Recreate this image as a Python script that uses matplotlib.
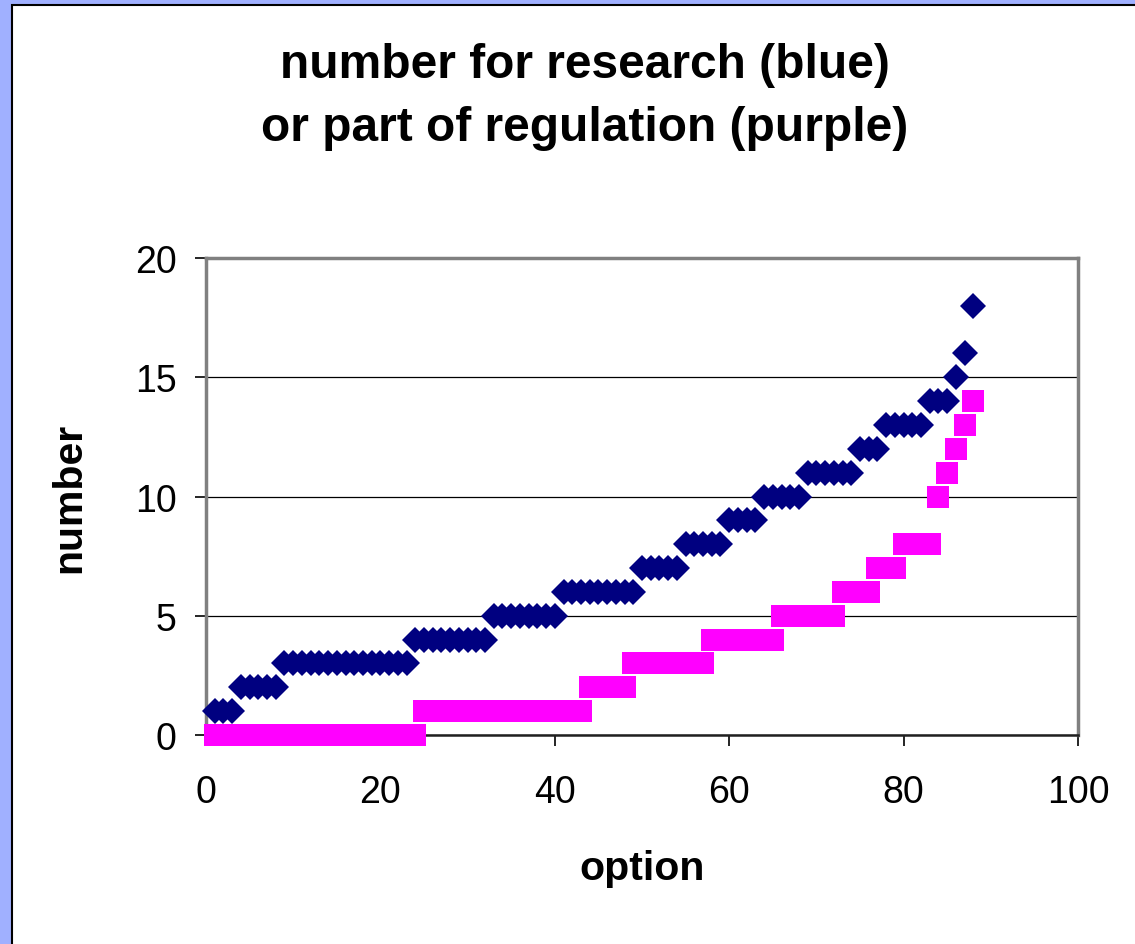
import matplotlib
matplotlib.use("Agg")
import matplotlib.pyplot as plt
from matplotlib.patches import Rectangle

# ── Dados ────────────────────────────────────────────────────────────────────
options = list(range(1, 89))

research = [1, 1, 1,
            2, 2, 2, 2, 2,
            3, 3, 3, 3, 3, 3, 3, 3, 3, 3, 3, 3, 3, 3, 3,
            4, 4, 4, 4, 4, 4, 4, 4, 4,
            5, 5, 5, 5, 5, 5, 5, 5,
            6, 6, 6, 6, 6, 6, 6, 6, 6,
            7, 7, 7, 7, 7,
            8, 8, 8, 8, 8,
            9, 9, 9, 9,
            10, 10, 10, 10, 10,
            11, 11, 11, 11, 11, 11,
            12, 12, 12,
            13, 13, 13, 13, 13,
            14, 14, 14,
            15, 16, 18]

regulation = [0, 0, 0, 0, 0, 0, 0, 0, 0, 0, 0, 0,
              0, 0, 0, 0, 0, 0, 0, 0, 0, 0, 0, 0,
              1, 1, 1, 1, 1, 1, 1, 1, 1, 1, 1, 1, 1, 1, 1, 1, 1, 1, 1,
              2, 2, 2, 2, 2,
              3, 3, 3, 3, 3, 3, 3, 3, 3,
              4, 4, 4, 4, 4, 4, 4, 4,
              5, 5, 5, 5, 5, 5, 5,
              6, 6, 6, 6,
              7, 7, 7,
              8, 8, 8, 8,
              10, 11, 12, 13, 14]

x_ticks = [0, 20, 40, 60, 80, 100]
y_ticks = [0, 5, 10, 15, 20]

TITULO = "number for research (blue)\nor part of regulation (purple)"

# ── Estilo ───────────────────────────────────────────────────────────────────
plt.rcParams.update({
    "font.family": ["Liberation Sans", "DejaVu Sans"],
    "text.color": "black",
})

W, H = 1135, 945
fig = plt.figure(figsize=(W / 100, H / 100), dpi=100, facecolor="#a0b0ff")

# moldura branca com borda preta (atrás de tudo)
fig.patches.append(Rectangle((11.5 / W, -0.05), 1.1, (H - 5.5) / H + 0.05,
                             transform=fig.transFigure, facecolor="white",
                             edgecolor="black", linewidth=1.5, zorder=-10))

ax = fig.add_axes([206 / W, 1 - 736 / H, (1078 - 206) / W, (736 - 259) / H])
ax.set_zorder(2)
ax.set_facecolor("white")

ax.plot(options, research, linestyle="none", marker="D", markersize=12.9,
        color="#000080", markeredgewidth=0, clip_on=False, zorder=3)
ax.plot(options, regulation, linestyle="none", marker="s", markersize=15.5,
        color="#ff00ff", markeredgewidth=0, clip_on=False, zorder=4)

ax.set_xlim(0, 100)
ax.set_ylim(0, 20)
ax.set_xticks(x_ticks)
ax.set_yticks(y_ticks)

ax.grid(axis="y", color="black", linewidth=0.9)
ax.set_axisbelow(True)

for lado in ["top", "right", "left"]:
    ax.spines[lado].set_color("#808080")
    ax.spines[lado].set_linewidth(2.5)
ax.spines["bottom"].set_color("#202020")
ax.spines["bottom"].set_linewidth(1.8)

ax.tick_params(axis="both", direction="out", length=8, width=1.2,
               color="black", labelsize=27)
ax.tick_params(axis="y", pad=13)
ax.tick_params(axis="x", pad=20)

ax.set_xlabel("option", fontsize=29.5, fontweight="bold", labelpad=28)
ax.set_ylabel("number", fontsize=29.5, fontweight="bold", labelpad=34)

fig.text(585 / W, 1 - 97 / H, TITULO, ha="center", va="center",
         fontsize=34.5, fontweight="bold", linespacing=1.52)

fig.savefig("out.png", dpi=100, facecolor=fig.get_facecolor())
